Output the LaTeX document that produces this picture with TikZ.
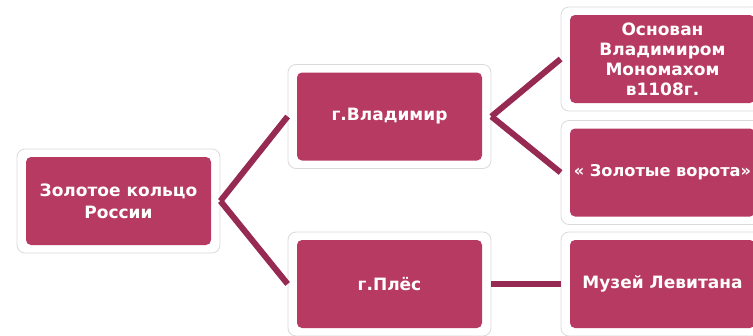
\documentclass[tikz,border=0pt]{standalone}
\usepackage{fontspec}
\setmainfont{DejaVu Sans}
\definecolor{boxfill}{RGB}{183,58,98}
\definecolor{linkcol}{RGB}{150,42,82}
\definecolor{framegray}{RGB}{218,218,218}
\tikzset{
  boxframe/.style={draw=framegray, fill=white, rounded corners=8pt, line width=0.8pt,
    minimum width=203pt, minimum height=104pt, inner sep=0pt},
  box/.style={fill=boxfill, rounded corners=5pt, minimum width=185pt, minimum height=88pt,
    inner sep=0pt, text=white, align=center, font=\bfseries\fontsize{17}{20}\selectfont},
  link/.style={draw=linkcol, line width=6pt}
}
\begin{document}
\begin{tikzpicture}[x=1pt,y=-1pt]

\newcommand\LX{118.5}
\newcommand\MX{389.5}
\newcommand\RX{662.5}

\useasboundingbox (0,0) rectangle (753,335);

%% frames
\node[boxframe] (rootF) at (\LX, 201) {};
\node[boxframe] (vladF) at (\MX, 116.5) {};
\node[boxframe] (plesF) at (\MX, 284) {};
\node[boxframe] (osnF) at (\RX, 59) {};
\node[boxframe] (gateF) at (\RX, 172.5) {};
\node[boxframe] (museumF) at (\RX, 284) {};

%% boxes
\node[box] (root) at (rootF) {Золотое кольцо\\[2pt]России};
\node[box] (vlad) at (vladF) {г.Владимир};
\node[box] (ples) at (plesF) {г.Плёс};
\node[box] (osn) at (osnF) {Основан\\Владимиром\\Мономахом\\в1108г.};
\node[box, font=\bfseries\fontsize{16.2}{20}\selectfont] (gate) at (gateF) {« Золотые ворота»};
\node[box] (museum) at (museumF) {Музей Левитана};

%% links
\draw[link] (rootF.east) -- (vladF.west);
\draw[link] (rootF.east) -- (plesF.west);
\draw[link] (vladF.east) -- (osnF.west);
\draw[link] (vladF.east) -- (gateF.west);
\draw[link] (plesF.east) -- (museumF.west);

\end{tikzpicture}
\end{document}
